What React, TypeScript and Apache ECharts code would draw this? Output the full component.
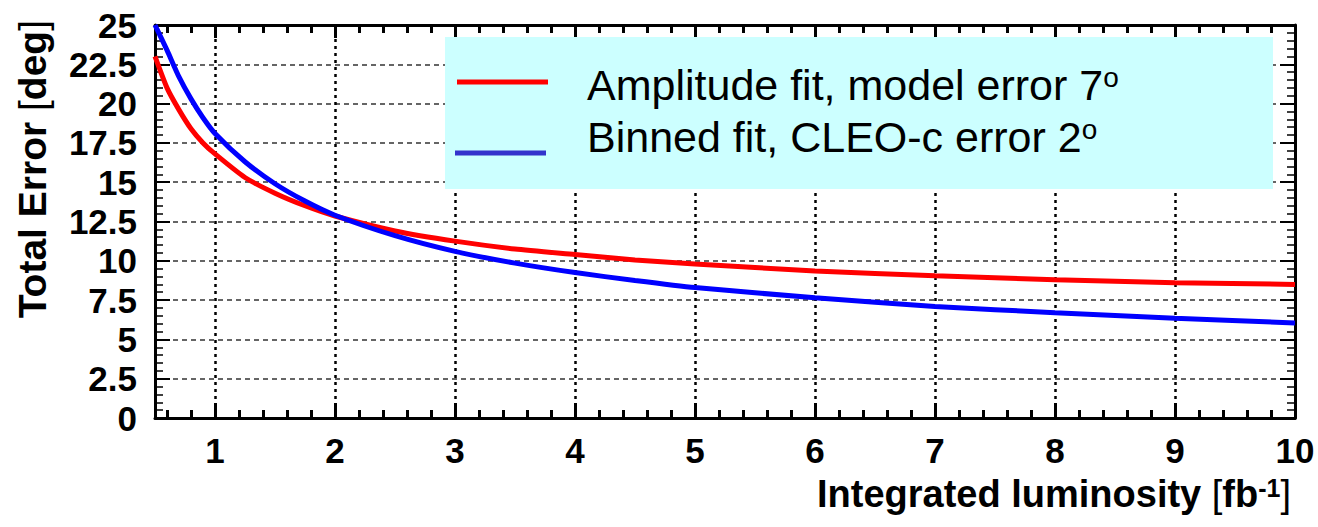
import React, { useEffect, useRef } from "react";
import * as echarts from "echarts";

// Integrated luminosity [fb^-1]
const luminosity = [0.5, 0.6, 0.7, 0.8, 0.9, 1, 1.25, 1.5, 1.75, 2, 2.5, 3, 3.5, 4, 4.5, 5, 6, 7, 8, 9, 10];
// Amplitude fit, model error 7 deg
const amplitudeFit = [23.0, 21.0, 19.6, 18.4, 17.5, 16.8, 15.3, 14.3, 13.5, 12.85, 11.9, 11.25, 10.75, 10.4, 10.05, 9.8, 9.35, 9.05, 8.8, 8.6, 8.5];
// Binned fit, CLEO-c error 2 deg
const binnedFit = [25.0, 23.4, 21.7, 20.3, 19.1, 18.1, 16.3, 14.9, 13.8, 12.9, 11.6, 10.6, 9.85, 9.25, 8.75, 8.3, 7.65, 7.1, 6.7, 6.35, 6.05];

const xMinorTicks = [
  0.6, 0.8, 1.2, 1.4, 1.6, 1.8, 2.2, 2.4, 2.6, 2.8, 3.2, 3.4, 3.6, 3.8,
  4.2, 4.4, 4.6, 4.8, 5.2, 5.4, 5.6, 5.8, 6.2, 6.4, 6.6, 6.8, 7.2, 7.4, 7.6, 7.8,
  8.2, 8.4, 8.6, 8.8, 9.2, 9.4, 9.6, 9.8,
];
const seriesNames = ["Amplitude fit, model error 7", "Binned fit, CLEO-c error 2"];
const seriesColors = ["#ff0000", "#0000ff"];
const legendColors = ["#ff0000", "#3333cc"];

export default function App() {
  const ref = useRef<HTMLDivElement>(null);
  useEffect(() => {
    const chart = echarts.init(ref.current!, null, { renderer: "svg" });
    const FONT = "'Liberation Sans', Arial, Helvetica, sans-serif";
    const G = { left: 155, top: 25, right: 23, bottom: 109 };
    const X_MIN = 0.5, X_MAX = 10, Y_MIN = 0, Y_MAX = 25;
    const axisLine = { show: true, onZero: false, lineStyle: { color: "#000", width: 3 } };

    const option: any = {
      animation: false,
      backgroundColor: "#fff",
      grid: [
        { ...G, containLabel: false, outerBoundsMode: "none" },
        { ...G, containLabel: false, outerBoundsMode: "none" },
      ],
      xAxis: [
        {
          gridIndex: 0, type: "value", position: "bottom", min: X_MIN, max: X_MAX, splitNumber: 10,
          axisLine,
          axisTick: { show: true, inside: true, length: 15, lineStyle: { color: "#000", width: 3 } },
          axisLabel: {
            margin: 15, color: "#000", fontSize: 35, fontWeight: "bold", fontFamily: FONT,
            formatter: (v: number) => (Number.isInteger(v) ? String(v) : ""),
          },
          splitLine: { show: true, lineStyle: { color: "#000", width: 2.5, type: [3, 4] } },
        },
        {
          gridIndex: 0, type: "value", position: "top", min: X_MIN, max: X_MAX, splitNumber: 10,
          axisLine,
          axisTick: { show: true, inside: true, length: 13, lineStyle: { color: "#000", width: 3 } },
          axisLabel: { show: false },
          splitLine: { show: false },
        },
        {
          gridIndex: 1, type: "value", position: "bottom", min: X_MIN, max: X_MAX,
          axisLine: { show: false },
          axisTick: { show: true, inside: true, length: 8, customValues: xMinorTicks, lineStyle: { color: "#000", width: 3 } },
          axisLabel: { show: false },
          splitLine: { show: false },
        },
        {
          gridIndex: 1, type: "value", position: "top", min: X_MIN, max: X_MAX,
          axisLine: { show: false },
          axisTick: { show: true, inside: true, length: 8, customValues: xMinorTicks, lineStyle: { color: "#000", width: 3 } },
          axisLabel: { show: false },
          splitLine: { show: false },
        },
      ],
      yAxis: [
        {
          gridIndex: 0, type: "value", position: "left", min: Y_MIN, max: Y_MAX, interval: 2.5,
          axisLine,
          axisTick: { show: true, inside: true, length: 15, lineStyle: { color: "#000", width: 2 } },
          minorTick: { show: true, splitNumber: 5, length: 8, lineStyle: { color: "#000", width: 1.5 } },
          axisLabel: { margin: 18, color: "#000", fontSize: 35, fontWeight: "bold", fontFamily: FONT },
          splitLine: { show: true, lineStyle: { color: "#333", width: 1.5, type: [5, 4] } },
        },
        {
          gridIndex: 0, type: "value", position: "right", min: Y_MIN, max: Y_MAX, interval: 2.5,
          axisLine,
          axisTick: { show: true, inside: true, length: 15, lineStyle: { color: "#000", width: 2 } },
          minorTick: { show: true, splitNumber: 5, length: 8, lineStyle: { color: "#000", width: 1.5 } },
          axisLabel: { show: false },
          splitLine: { show: false },
        },
        { gridIndex: 1, type: "value", show: false, min: Y_MIN, max: Y_MAX },
      ],
      series: [amplitudeFit, binnedFit].map((vals, i) => ({
        name: seriesNames[i],
        type: "line",
        xAxisIndex: 0,
        yAxisIndex: 0,
        data: luminosity.map((x, j) => [x, vals[j]]),
        showSymbol: false,
        smooth: 0.2,
        lineStyle: { color: seriesColors[i], width: 5 },
        z: 3 + i,
      })),
      graphic: [
        { type: "rect", z: 10, shape: { x: 445, y: 37, width: 828, height: 152 }, style: { fill: "#ccffff" } },
        { type: "line", z: 11, shape: { x1: 457, y1: 82, x2: 548, y2: 82 }, style: { stroke: legendColors[0], lineWidth: 5 } },
        { type: "line", z: 11, shape: { x1: 455, y1: 153, x2: 546, y2: 153 }, style: { stroke: legendColors[1], lineWidth: 5 } },
        ...seriesNames.map((name, i) => ({
          type: "text", z: 11, x: 587, y: i === 0 ? 85 : 137,
          style: {
            text: `{n|${name}}{s|o}`,
            align: "left", verticalAlign: "middle",
            rich: {
              n: { fontSize: 43, fontFamily: FONT, fill: "#000" },
              s: { fontSize: 28, fontFamily: FONT, fill: "#000", verticalAlign: "top" },
            },
          },
        })),
        {
          type: "text", z: 11, x: 1291, y: 494,
          style: {
            text: "{b|Integrated luminosity }{n|[}{b|fb}{s|-1}{n|]}",
            align: "right", verticalAlign: "middle",
            rich: {
              b: { fontSize: 38, fontWeight: "bold", fontFamily: FONT, fill: "#000" },
              n: { fontSize: 38, fontFamily: FONT, fill: "#000" },
              s: { fontSize: 25, fontWeight: "bold", fontFamily: FONT, fill: "#000", verticalAlign: "top" },
            },
          },
        },
        {
          type: "text", z: 11, x: 32, y: 20, rotation: Math.PI / 2,
          style: {
            text: "{b|Total Error }{n|[}{b|deg}{n|]}",
            align: "right", verticalAlign: "middle",
            rich: {
              b: { fontSize: 39, fontWeight: "bold", fontFamily: FONT, fill: "#000" },
              n: { fontSize: 39, fontFamily: FONT, fill: "#000" },
            },
          },
        },
      ],
    };
    chart.setOption(option);
    return () => chart.dispose();
  }, []);
  return (
    <div
      ref={ref}
      style={{ position: "fixed", left: 0, top: 0, width: 1318, height: 527, background: "#fff" }}
    />
  );
}
